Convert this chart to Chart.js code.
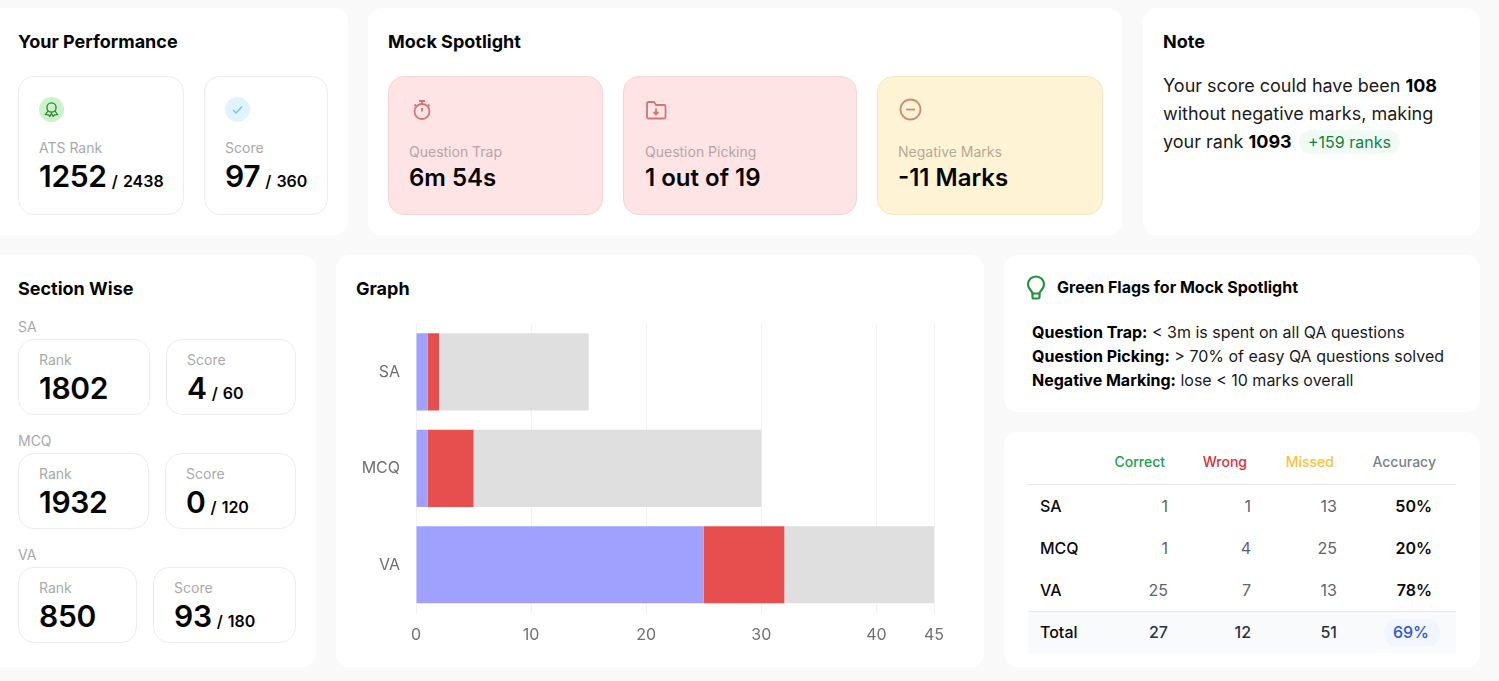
<!DOCTYPE html>
<html>
<head>
<meta charset="utf-8">
<title>Mock Analysis</title>
<script src="https://cdn.jsdelivr.net/npm/chart.js@4"></script>
<style>
  html, body { margin: 0; padding: 0; background: #f9f9f9; width: 1499px; height: 681px; overflow: hidden; font-family: Inter, sans-serif; color: #050505; }
  .card { position: absolute; background: #fff; border-radius: 14px; }
  .box { position: absolute; background: #fff; border: 1px solid #ececec; border-radius: 16px; box-sizing: border-box; }
  .box.red { background: #ffe4e6; border-color: #f5d3d6; }
  .box.yellow { background: #fff3d6; border-color: #f1e6c4; }
  .t { position: absolute; white-space: nowrap; line-height: 1; }
  .title { font-size: 18px; font-weight: 700; }
  .label { font-size: 14px; color: #a9a9a9; }
  .big { font-size: 30px; font-weight: 600; letter-spacing: -0.3px; }
  .big small { font-size: 16px; font-weight: 600; letter-spacing: 0; word-spacing: 1px; }
  .mid { font-size: 24px; font-weight: 600; }
  .note { font-size: 18px; color: #1c1c1c; }
  .note b { font-weight: 700; color: #000; }
  .pill { position: absolute; background: #f0fbf3; color: #15803d; font-size: 16px; border-radius: 12px; padding: 3px 9px; line-height: 18px; white-space: nowrap; }
  .flag { font-size: 16px; color: #1a1a1a; }
  .flag b { font-weight: 700; color: #000; }
  svg { position: absolute; }
  #chartBox { position: absolute; left: 336px; top: 306px; width: 648px; height: 351px; }
  .cell { position: absolute; line-height: 1; white-space: nowrap; font-size: 16px; }
  .line { position: absolute; left: 1028px; width: 428px; height: 1px; background: #e8e8e8; }
</style>
</head>
<body>

<div class="card" style="left:-14px;top:8px;width:362px;height:227px"></div>
<div class="card" style="left:368px;top:8px;width:754px;height:227px"></div>
<div class="card" style="left:1143px;top:8px;width:337px;height:227px"></div>
<div class="card" style="left:-14px;top:255px;width:330px;height:412px"></div>
<div class="card" style="left:336px;top:255px;width:648px;height:412px"></div>
<div class="card" style="left:1004px;top:255px;width:476px;height:157px"></div>
<div class="card" style="left:1004px;top:432px;width:476px;height:235px"></div>

<div class="t title" style="left:18px;top:33px">Your Performance</div>
<div class="box" style="left:18px;top:76px;width:166px;height:139px"></div>
<div class="box" style="left:204px;top:76px;width:124px;height:139px"></div>
<svg style="left:39px;top:97px" width="25" height="25" viewBox="0 0 25 25">
  <circle cx="12.5" cy="12.5" r="12.5" fill="#c9f5c9"/>
  <circle cx="12.5" cy="10.5" r="4.6" fill="none" stroke="#2f7d32" stroke-width="1.3"/>
  <path d="M9 14l-2.5 3.5 3 .3 1.4 1.6 1.6-3 1.6 3 1.4-1.6 3-.3L16 14" fill="none" stroke="#2f7d32" stroke-width="1.2"/>
</svg>
<svg style="left:225px;top:97px" width="25" height="25" viewBox="0 0 25 25">
  <circle cx="12.5" cy="12.5" r="12.5" fill="#e0f4ff"/>
  <path d="M8 13l3 3 6-6.5" fill="none" stroke="#7cc0ee" stroke-width="1.4"/>
</svg>
<div class="t label" style="left:39px;top:141px">ATS Rank</div>
<div class="t big" style="left:39px;top:161px">1252<small> / 2438</small></div>
<div class="t label" style="left:225px;top:141px">Score</div>
<div class="t big" style="left:225px;top:161px">97<small> / 360</small></div>

<div class="t title" style="left:388px;top:33px">Mock Spotlight</div>
<div class="box red" style="left:388px;top:76px;width:215px;height:139px"></div>
<div class="box red" style="left:623px;top:76px;width:234px;height:139px"></div>
<div class="box yellow" style="left:877px;top:76px;width:226px;height:139px"></div>
<svg style="left:410px;top:98px" width="24" height="24" viewBox="0 0 24 24" fill="none" stroke="#d3747c" stroke-width="1.8">
  <circle cx="12" cy="13.5" r="7.5"/><path d="M9 3h6M12 3v3M12 10v3.5M18 6.5l1.5 1.5M6 6.5L4.5 8"/>
</svg>
<svg style="left:644px;top:98px" width="24" height="24" viewBox="0 0 24 24" fill="none" stroke="#d3747c" stroke-width="1.8">
  <path d="M3 5.5A1.5 1.5 0 0 1 4.500 4H10l2 3h8a1.500 1.500 0 0 1 1.500 1.500V19a1.500 1.500 0 0 1-1.500 1.500H4.500A1.500 1.500 0 0 1 3 19z"/><path d="M12 10.500v6M9.500 14l2.500 2.500 2.500-2.500"/>
</svg>
<svg style="left:898px;top:97px" width="25" height="25" viewBox="0 0 25 25" fill="none" stroke="#c98e72" stroke-width="1.8">
  <circle cx="12.500" cy="12.500" r="10"/><path d="M8 12.500h9"/>
</svg>
<div class="t label" style="left:409px;top:145px;color:#b7a3a6">Question Trap</div>
<div class="t mid" style="left:409px;top:166px">6m 54s</div>
<div class="t label" style="left:645px;top:145px;color:#b7a3a6">Question Picking</div>
<div class="t mid" style="left:645px;top:166px">1 out of 19</div>
<div class="t label" style="left:898px;top:145px;color:#b3ab94">Negative Marks</div>
<div class="t mid" style="left:898px;top:166px">-11 Marks</div>

<div class="t title" style="left:1163px;top:33px">Note</div>
<div class="t note" style="left:1163px;top:77px">Your score could have been <b>108</b></div>
<div class="t note" style="left:1163px;top:105px">without negative marks, making</div>
<div class="t note" style="left:1163px;top:133px">your rank <b>1093</b></div>
<div class="pill" style="left:1299px;top:130px">+159 ranks</div>

<div class="t title" style="left:18px;top:280px">Section Wise</div>
<div id="sections"></div>

<div class="t title" style="left:356px;top:280px">Graph</div>
<div id="chartBox"><canvas id="graphChart"></canvas></div>

<svg style="left:1024px;top:275px" width="24" height="26" viewBox="0 0 24 26" fill="none" stroke="#22923a" stroke-width="2.200">
  <path d="M8.500 18.500c0-2.500-4.500-4-4.500-9a8 8 0 0 1 16 0c0 5-4.500 6.500-4.500 9z"/><path d="M8.500 18.500V22a1.500 1.500 0 0 0 1.500 1.500h4a1.500 1.500 0 0 0 1.500-1.500v-3.500"/>
</svg>
<div class="t" style="left:1057px;top:279px;font-size:16px;font-weight:700">Green Flags for Mock Spotlight</div>
<div class="t flag" style="left:1032px;top:324px"><b>Question Trap:</b> &lt; 3m is spent on all QA questions</div>
<div class="t flag" style="left:1032px;top:348px"><b>Question Picking:</b> &gt; 70% of easy QA questions solved</div>
<div class="t flag" style="left:1032px;top:372px"><b>Negative Marking:</b> lose &lt; 10 marks overall</div>

<div style="position:absolute;left:1028px;top:612px;width:428px;height:41px;background:#f8fafc"></div>
<div style="position:absolute;left:1384px;top:619px;width:56px;height:27px;background:#f1f5fe;border-radius:12px"></div>
<div class="line" style="top:484px"></div>
<div class="line" style="top:611px"></div>
<div id="scoreTable"></div>

<script>
// graph + table values
const categories = ["SA", "MCQ", "VA"];
const correct = [1, 1, 25];
const wrong = [1, 4, 7];
const missed = [13, 25, 13];
const accuracy = ["50%", "20%", "78%"];
const totals = ["27", "12", "51"];
const totalAccuracy = "69%";
const xTicks = [0, 10, 20, 30, 40, 45];

// section wise cards
const sectionNames = ["SA", "MCQ", "VA"];
const sectionRanks = ["1802", "1932", "850"];
const sectionScores = ["4", "0", "93"];
const sectionOutOf = ["60", "120", "180"];

const sectionLayout = [
    { top: 339, rankW: 132, scoreX: 166, scoreW: 130 },
    { top: 453, rankW: 131, scoreX: 165, scoreW: 131 },
    { top: 567, rankW: 119, scoreX: 153, scoreW: 143 },
];

function addEl(parent, cls, left, top, html, style) {
    const el = document.createElement("div");
    el.className = cls;
    el.style.left = left + "px";
    el.style.top = top + "px";
    if (style) el.style.cssText += style;
    el.innerHTML = html;
    parent.appendChild(el);
    return el;
}

const sec = document.getElementById("sections");
sectionNames.forEach(function (name, i) {
    const l = sectionLayout[i];
    addEl(sec, "t label", 18, l.top - 19, name);
    addEl(sec, "box", 18, l.top, "", "width:" + l.rankW + "px;height:76px");
    addEl(sec, "box", l.scoreX, l.top, "", "width:" + l.scoreW + "px;height:76px");
    addEl(sec, "t label", 39, l.top + 14, "Rank");
    addEl(sec, "t big", 39, l.top + 34, sectionRanks[i]);
    addEl(sec, "t label", l.scoreX + 21, l.top + 14, "Score");
    addEl(sec, "t big", l.scoreX + 21, l.top + 34, sectionScores[i] + "<small> / " + sectionOutOf[i] + "</small>");
});

// table
const tbl = document.getElementById("scoreTable");
const colRight = [1168, 1251, 1337];
const headRight = [1165, 1247, 1334, 1436];
const headText = ["Correct", "Wrong", "Missed", "Accuracy"];
const headColor = ["#22a04a", "#dc2f3a", "#fbc13a", "#7a7f87"];
const rowTop = [498, 540, 582];

function rightCell(right, top, text, style) {
    addEl(tbl, "cell", right - 120, top, text, "width:120px;text-align:right;" + style);
}

headText.forEach(function (h, i) {
    rightCell(headRight[i], 455, h, "font-size:14px;font-weight:500;color:" + headColor[i]);
});
categories.forEach(function (c, i) {
    addEl(tbl, "cell", 1040, rowTop[i], c, "font-weight:500;color:#0b0b0b");
    [correct[i], wrong[i], missed[i]].forEach(function (v, j) {
        rightCell(colRight[j], rowTop[i], v, "color:#5d6571");
    });
    rightCell(1432, rowTop[i], accuracy[i], "font-weight:600;color:#0b0b0b");
});
addEl(tbl, "cell", 1040, 624, "Total", "font-weight:500;color:#0b0b0b");
totals.forEach(function (v, j) {
    rightCell(colRight[j], 624, v, "font-weight:500;color:#2a3240");
});
rightCell(1429, 624, totalAccuracy, "color:#2f55d4;font-weight:500");

// chart
new Chart(document.getElementById("graphChart"), {
    type: "bar",
    data: {
        labels: categories,
        datasets: [
            { label: "Correct", data: correct, backgroundColor: "#a0a0ff" },
            { label: "Wrong", data: wrong, backgroundColor: "#e74e4e" },
            { label: "Missed", data: missed, backgroundColor: "#dfdfdf" },
        ],
    },
    options: {
        indexAxis: "y",
        responsive: true,
        maintainAspectRatio: false,
        animation: false,
        layout: { padding: { top: 7, right: 50 } },
        plugins: { legend: { display: false }, tooltip: { enabled: false } },
        datasets: { bar: { barPercentage: 0.8, categoryPercentage: 1 } },
        scales: {
            x: {
                stacked: true,
                min: 0,
                max: 45,
                afterBuildTicks: function (axis) {
                    axis.ticks = xTicks.map(function (v) { return { value: v }; });
                },
                afterFit: function (axis) { axis.height = 44; },
                grid: { color: "#f2f2f2", drawTicks: false },
                border: { display: false },
                ticks: { color: "#6f6f6f", font: { family: "Inter", size: 16 }, padding: 13, maxRotation: 0, autoSkip: false },
            },
            y: {
                stacked: true,
                afterFit: function (axis) { axis.width = 80; },
                grid: { display: false },
                border: { color: "#f2f2f2" },
                ticks: { color: "#6f6f6f", font: { family: "Inter", size: 16 }, padding: 8 },
            },
        },
    },
});
</script>
</body>
</html>
